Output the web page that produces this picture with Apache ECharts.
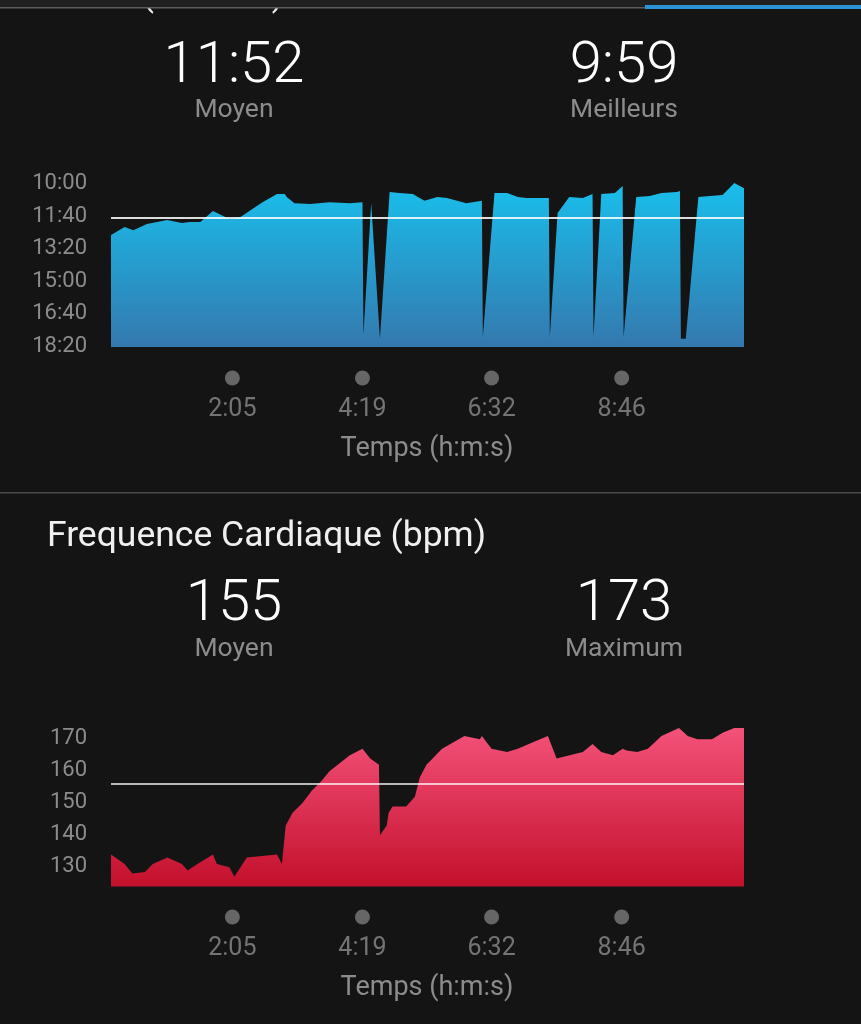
<!DOCTYPE html>
<html>
<head>
<meta charset="utf-8">
<title>Allure et fréquence cardiaque</title>
<script src="https://cdn.jsdelivr.net/npm/echarts@6/dist/echarts.min.js"></script>
<style>
  html, body { margin: 0; padding: 0; background: #141414; }
  #main { width: 861px; height: 1024px; }
</style>
</head>
<body>
<div id="main"></div>
<script>
// temps en secondes depuis le départ, allure en secondes par km
var allureTemps = [0, 14, 23, 37, 58, 73, 81, 92, 105, 122, 133, 141, 156, 171, 179, 181, 189, 205, 225, 246, 259, 260, 268, 277, 287, 297, 311, 316, 323, 336, 346, 366, 382, 383, 395, 408, 419, 428, 451, 452, 460, 472, 486, 496, 497, 505, 519, 527, 528, 541, 555, 567, 583, 586, 587, 592, 605, 617, 630, 642, 652];
var allureValeurs = [766, 741, 751, 732, 720, 729, 726, 726, 692, 717, 711, 695, 665, 640, 640, 649, 668, 671, 665, 668, 665, 1073, 668, 1085, 634, 637, 640, 649, 661, 649, 652, 668, 661, 1079, 637, 637, 649, 652, 652, 1079, 698, 649, 652, 640, 1079, 640, 637, 615, 1079, 649, 646, 637, 634, 631, 1085, 1085, 649, 646, 643, 606, 622];
var allureMoyenne = 712;   // 11:52
var allureMeilleure = 599; // 9:59

// fréquence cardiaque (bpm)
var fcTemps = [0, 14, 22, 35, 43, 58, 73, 79, 89, 105, 109, 122, 127, 140, 171, 176, 180, 187, 197, 207, 217, 225, 246, 259, 267, 276, 277, 284, 286, 290, 304, 313, 318, 325, 341, 364, 380, 382, 392, 408, 419, 434, 450, 459, 486, 496, 505, 517, 527, 531, 542, 553, 567, 585, 594, 604, 619, 630, 642, 652];
var fcValeurs = [133, 130, 127, 127.5, 130, 132, 130, 128, 130, 133, 130, 129, 126, 132, 133, 130, 142, 146, 149, 153, 156, 159, 164, 166, 163, 161, 139, 142, 146, 148, 148, 151, 157, 161, 166, 170, 169, 170, 166, 165, 166, 168, 170, 163, 165, 167.5, 165, 164, 166, 165.5, 165, 166, 170, 172.5, 170, 169, 169, 171, 172.5, 172.5];
var fcMoyenne = 155;
var fcMaximum = 173;

var tempsLabels = ['2:05', '4:19', '6:32', '8:46'];
var dureeTotale = 652;

function versSecondes(txt) {
  var p = txt.split(':');
  return parseInt(p[0], 10) * 60 + parseInt(p[1], 10);
}
function mmss(s) {
  var m = Math.floor(s / 60), r = Math.round(s % 60);
  return m + ':' + (r < 10 ? '0' + r : r);
}
function paires(xs, ys) {
  var out = [];
  for (var i = 0; i < xs.length; i++) out.push([xs[i], ys[i]]);
  return out;
}

var gris = '#8c8c8c';
var police = 'Roboto, "Liberation Sans", sans-serif';
var tempsTicks = tempsLabels.map(versSecondes);

function texte(t, x, y, taille, couleur, align, poids) {
  return {
    type: 'text', x: x, y: y, z: 10, silent: true,
    style: {
      text: t, fill: couleur, fontSize: taille, fontFamily: police,
      fontWeight: poids || 'normal',
      textAlign: align || 'center', textVerticalAlign: 'middle'
    }
  };
}

function pointsTemps(xi, yi) {
  return {
    type: 'scatter', xAxisIndex: xi, yAxisIndex: yi, silent: true,
    data: tempsTicks.map(function (t) { return [t, 0.5]; }),
    symbolSize: 15,
    itemStyle: { color: '#7a7a7a' },
    label: {
      show: true, position: 'bottom', distance: 12,
      color: gris, fontSize: 25, fontFamily: police,
      formatter: function (p) { return tempsLabels[p.dataIndex]; }
    }
  };
}

// étiquettes de l'axe vertical, un peu descendues
function labelAxe(fmt) {
  return {
    margin: 24,
    formatter: function (v) { return '{a|' + fmt(v) + '}'; },
    rich: { a: { color: gris, fontSize: 22, fontFamily: police, padding: [5, 0, 0, 0] } }
  };
}

var chart = echarts.init(document.getElementById('main'));
chart.setOption({
  backgroundColor: '#141414',
  animation: false,
  grid: [
    { left: 111, top: 181, width: 633, height: 166 },
    { left: 111, top: 370, width: 633, height: 16 },
    { left: 111, top: 720, width: 633, height: 176 },
    { left: 111, top: 909, width: 633, height: 16 }
  ],
  xAxis: [0, 1, 2, 3].map(function (i) {
    return { gridIndex: i, type: 'value', min: 0, max: dureeTotale, show: false };
  }),
  yAxis: [
    {
      gridIndex: 0, type: 'value', inverse: true, min: 600, max: 1110, interval: 100,
      axisLine: { show: false }, axisTick: { show: false }, splitLine: { show: false },
      axisLabel: Object.assign({ showMaxLabel: false }, labelAxe(mmss))
    },
    { gridIndex: 1, type: 'value', min: 0, max: 1, show: false },
    {
      gridIndex: 2, type: 'value', min: 120, max: 175, interval: 10,
      axisLine: { show: false }, axisTick: { show: false }, splitLine: { show: false },
      axisLabel: Object.assign({ showMinLabel: false, showMaxLabel: false }, labelAxe(String))
    },
    { gridIndex: 3, type: 'value', min: 0, max: 1, show: false }
  ],
  series: [
    {
      type: 'line', xAxisIndex: 0, yAxisIndex: 0,
      data: paires(allureTemps, allureValeurs),
      symbol: 'none', lineStyle: { width: 0 },
      areaStyle: {
        origin: 'end', opacity: 1,
        color: new echarts.graphic.LinearGradient(0, 0, 0, 1, [
          { offset: 0, color: '#19bfec' },
          { offset: 1, color: '#3478ae' }
        ])
      },
      markLine: {
        silent: true, symbol: 'none', label: { show: false },
        lineStyle: { color: 'rgba(255,255,255,0.85)', width: 2, type: 'solid' },
        data: [{ yAxis: allureMoyenne }]
      }
    },
    pointsTemps(1, 1),
    {
      type: 'line', xAxisIndex: 2, yAxisIndex: 2,
      data: paires(fcTemps, fcValeurs),
      symbol: 'none', lineStyle: { width: 0 },
      areaStyle: {
        origin: 123, opacity: 1,
        color: new echarts.graphic.LinearGradient(0, 0, 0, 1, [
          { offset: 0, color: '#f4527a' },
          { offset: 1, color: '#c3102c' }
        ])
      },
      markLine: {
        silent: true, symbol: 'none', label: { show: false },
        lineStyle: { color: 'rgba(255,255,255,0.7)', width: 2, type: 'solid' },
        data: [{ yAxis: fcMoyenne }]
      }
    },
    pointsTemps(3, 3)
  ],
  graphic: [
    { type: 'text', x: 47, y: 14, z: 1, silent: true,
      style: { text: 'Allure (min/km)', fill: '#f0f0f0', fontSize: 34, fontFamily: police, textVerticalAlign: 'bottom' } },
    { type: 'rect', z: 5, silent: true, shape: { x: 0, y: 0, width: 861, height: 7 }, style: { fill: '#202020' } },
    { type: 'rect', z: 6, silent: true, shape: { x: 0, y: 7, width: 645, height: 1.5 }, style: { fill: '#5c5c5c' } },
    { type: 'rect', z: 6, silent: true, shape: { x: 645, y: 5, width: 216, height: 4 }, style: { fill: '#2b93d6' } },
    texte(mmss(allureMoyenne), 234, 67, 58, '#ffffff', 'center', 300),
    texte('Moyen', 234, 110, 26.5, gris),
    texte(mmss(allureMeilleure), 624, 67, 58, '#ffffff', 'center', 300),
    texte('Meilleurs', 624, 110, 26.5, gris),
    texte('Temps (h:m:s)', 427, 449, 27, gris),
    { type: 'rect', z: 6, silent: true, shape: { x: 0, y: 492, width: 861, height: 1.5 }, style: { fill: '#4a4a4a' } },
    texte('Frequence Cardiaque (bpm)', 47, 537, 35.5, '#f0f0f0', 'left'),
    texte(String(fcMoyenne), 234, 605, 58, '#ffffff', 'center', 300),
    texte('Moyen', 234, 649, 26.5, gris),
    texte(String(fcMaximum), 624, 605, 58, '#ffffff', 'center', 300),
    texte('Maximum', 624, 649, 26.5, gris),
    texte('Temps (h:m:s)', 427, 988, 27, gris)
  ]
});
</script>
</body>
</html>
